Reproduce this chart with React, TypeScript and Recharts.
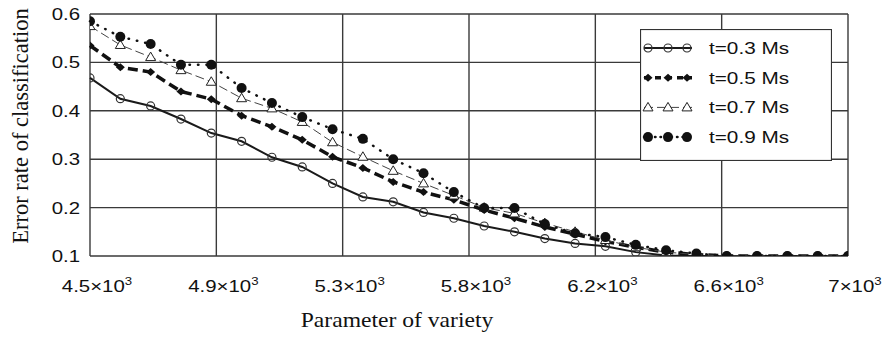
import { LineChart, Line, XAxis, YAxis, CartesianGrid, Legend, Label } from "recharts";

// parameter of variety (x), one point every 100
const VARIETY = [
  4500, 4600, 4700, 4800, 4900, 5000, 5100, 5200, 5300, 5400, 5500, 5600, 5700,
  5800, 5900, 6000, 6100, 6200, 6300, 6400, 6500, 6600, 6700, 6800, 6900, 7000,
];

// error rate of classification per series
const ERR_T03 = [
  0.468, 0.425, 0.41, 0.383, 0.354, 0.337, 0.304, 0.284, 0.25, 0.222, 0.212, 0.19, 0.178,
  0.162, 0.15, 0.136, 0.126, 0.12, 0.108, 0.101, 0.1, 0.1, 0.1, 0.1, 0.1, 0.1,
];
const ERR_T05 = [
  0.535, 0.49, 0.48, 0.44, 0.424, 0.39, 0.367, 0.34, 0.305, 0.282, 0.253, 0.232, 0.216,
  0.195, 0.178, 0.16, 0.145, 0.13, 0.118, 0.108, 0.103, 0.1, 0.1, 0.1, 0.1, 0.1,
];
const ERR_T07 = [
  0.575, 0.536, 0.511, 0.484, 0.46, 0.426, 0.405, 0.377, 0.335, 0.305, 0.276, 0.25, 0.225,
  0.2, 0.188, 0.168, 0.15, 0.133, 0.118, 0.108, 0.103, 0.1, 0.1, 0.1, 0.1, 0.1,
];
const ERR_T09 = [
  0.585, 0.553, 0.538, 0.495, 0.495, 0.447, 0.416, 0.387, 0.362, 0.342, 0.3, 0.271, 0.232,
  0.199, 0.199, 0.166, 0.147, 0.139, 0.123, 0.112, 0.105, 0.1, 0.1, 0.1, 0.1, 0.1,
];

const SERIES_NAMES = ["t=0.3 Ms", "t=0.5 Ms", "t=0.7 Ms", "t=0.9 Ms"];

const X_TICKS = [4500, 4916.67, 5333.33, 5750, 6166.67, 6583.33, 7000];
const X_TICK_LABELS = ["4.5", "4.9", "5.3", "5.8", "6.2", "6.6", "7"];
const Y_TICKS = [0.1, 0.2, 0.3, 0.4, 0.5, 0.6];

const data = VARIETY.map((x, i) => ({
  x,
  t03: ERR_T03[i],
  t05: ERR_T05[i],
  t07: ERR_T07[i],
  t09: ERR_T09[i],
}));

const W = 893;
const H = 337;
const M = { top: 14, right: 45, left: 0, bottom: 0 };
const Y_AXIS_W = 90;
const X_AXIS_H = 81;

const SANS = "'Liberation Sans', Arial, sans-serif";
const SERIF = "'Liberation Serif', 'Times New Roman', serif";

type Shape = "circle" | "diamond" | "triangle" | "dot";

function Marker({ shape, cx, cy }: { shape: Shape; cx: number; cy: number }) {
  if (cx == null || cy == null) return null;
  if (shape === "circle")
    return <circle cx={cx} cy={cy} r={4} fill="none" stroke="#333" strokeWidth={1.2} />;
  if (shape === "diamond")
    return (
      <path
        d={`M${cx - 4.5},${cy} L${cx},${cy - 4} L${cx + 4.5},${cy} L${cx},${cy + 4} Z`}
        fill="#111"
      />
    );
  if (shape === "triangle")
    return (
      <path
        d={`M${cx},${cy - 5} L${cx + 5},${cy + 3.5} L${cx - 5},${cy + 3.5} Z`}
        fill="#fff"
        stroke="#222"
        strokeWidth={1}
      />
    );
  return <circle cx={cx} cy={cy} r={5} fill="#111" />;
}

const STYLES = [
  { key: "t03", shape: "circle" as Shape, stroke: "#1a1a1a", width: 2, dash: undefined, cap: "butt" },
  { key: "t05", shape: "diamond" as Shape, stroke: "#111", width: 3.5, dash: "10 5", cap: "butt" },
  { key: "t07", shape: "triangle" as Shape, stroke: "#444", width: 1, dash: "9 4", cap: "butt" },
  { key: "t09", shape: "dot" as Shape, stroke: "#111", width: 2.5, dash: "0.5 8", cap: "round" },
];

function XTick(props: any) {
  const { x, y, payload, index } = props;
  let i = X_TICKS.indexOf(payload?.value);
  if (i < 0) i = index;
  return (
    <g transform={`translate(${x + 7},${y})`}>
      <text transform="scale(1.2,1)" y={36} textAnchor="middle" fontFamily={SANS} fontSize={17} fill="#111">
        {X_TICK_LABELS[i]}×10
        <tspan dy={-7} fontSize={11}>3</tspan>
      </text>
    </g>
  );
}

function YTick(props: any) {
  const { x, y, payload } = props;
  return (
    <g transform={`translate(${x - 10},${y + 6})`}>
      <text transform="scale(1.2,1)" textAnchor="end" fontFamily={SANS} fontSize={17} fill="#111">
        {Number(payload.value).toFixed(1)}
      </text>
    </g>
  );
}

function XTitle() {
  return (
    <text transform="translate(397,327) scale(1.18,1)" textAnchor="middle" fontFamily={SERIF} fontSize={20} fill="#111">
      Parameter of variety
    </text>
  );
}

function YTitle() {
  return (
    <text transform="translate(28,126) rotate(-90)" textAnchor="middle" fontFamily={SERIF} fontSize={22.5} fill="#111">
      Error rate of classification
    </text>
  );
}

function LegendBox() {
  return (
    <svg width={192} height={132} style={{ display: "block" }}>
      <rect x={0.5} y={0.5} width={191} height={131} fill="#fff" stroke="#333" strokeWidth={1.2} />
      {STYLES.map((s, i) => {
        const cy = 19 + i * 29.7;
        return (
          <g key={s.key}>
            <line
              x1={4}
              x2={52}
              y1={cy}
              y2={cy}
              stroke={s.stroke}
              strokeWidth={s.width}
              strokeDasharray={s.dash === "0.5 8" ? "0.5 5" : s.dash === "10 5" ? "6 5" : s.dash}
              strokeLinecap={s.cap as any}
            />
            {[8, 28, 47].map((mx) => (
              <Marker key={mx} shape={s.shape} cx={mx} cy={cy} />
            ))}
            <text transform={`translate(69,${cy + 6}) scale(1.22,1)`} fontFamily={SANS} fontSize={17} fill="#111">
              {SERIES_NAMES[i]}
            </text>
          </g>
        );
      })}
    </svg>
  );
}

export default function App() {
  // markers are cut at the plot frame, like the original figure
  const plotW = W - M.left - M.right - Y_AXIS_W;
  const plotH = H - M.top - M.bottom - X_AXIS_H;
  return (
    <div style={{ position: "absolute", left: 0, top: 0, background: "#fff" }}>
      <LineChart width={W} height={H} data={data} margin={M}>
        <defs>
          <clipPath id="plot-frame">
            <rect x={M.left + Y_AXIS_W} y={M.top} width={plotW} height={plotH} />
          </clipPath>
        </defs>
        <CartesianGrid stroke="#3a3a3a" strokeWidth={1.4} />
        <XAxis
          dataKey="x"
          type="number"
          domain={[4500, 7000]}
          ticks={X_TICKS}
          height={X_AXIS_H}
          axisLine={false}
          tickLine={false}
          tickSize={0}
          tickMargin={0}
          tick={<XTick />}
          interval={0}
        >
          <Label content={<XTitle />} />
        </XAxis>
        <YAxis
          type="number"
          domain={[0.1, 0.6]}
          ticks={Y_TICKS}
          allowDataOverflow
          width={Y_AXIS_W}
          axisLine={false}
          tickLine={false}
          tickSize={0}
          tickMargin={0}
          tick={<YTick />}
          interval={0}
        >
          <Label content={<YTitle />} />
        </YAxis>
        <Legend
          layout="vertical"
          align="center"
          verticalAlign="middle"
          wrapperStyle={{ left: 640, top: 29, width: 192, height: 132 }}
          content={() => <LegendBox />}
        />
        {STYLES.map((s, i) => (
          <Line
            key={s.key}
            dataKey={s.key}
            name={SERIES_NAMES[i]}
            type="linear"
            stroke={s.stroke}
            strokeWidth={s.width}
            strokeDasharray={s.dash}
            strokeLinecap={s.cap as any}
            isAnimationActive={false}
            activeDot={false}
            dot={(p: any) => (
              <g key={`${s.key}-${p.index}`} clipPath="url(#plot-frame)">
                <Marker shape={s.shape} cx={p.cx} cy={p.cy} />
              </g>
            )}
          />
        ))}
      </LineChart>
    </div>
  );
}
